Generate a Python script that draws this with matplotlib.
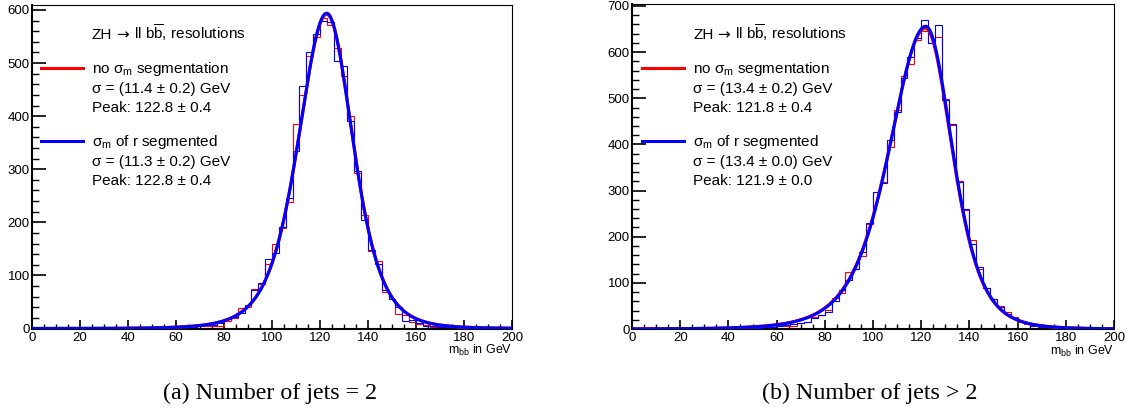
import numpy as np
import matplotlib.pyplot as plt
from matplotlib.ticker import MultipleLocator
from matplotlib.lines import Line2D

plt.rcParams['font.family'] = ['Liberation Sans', 'DejaVu Sans']
plt.rcParams['mathtext.fontset'] = 'custom'
plt.rcParams['mathtext.rm'] = 'Liberation Sans'
plt.rcParams['mathtext.it'] = 'Liberation Sans:italic'
plt.rcParams['mathtext.bf'] = 'Liberation Sans:bold'

# 70 bins from 0 to 200 GeV
n_bins = 70
x_range = (0, 200)

# bin contents, (a) number of jets = 2
left_red = [0, 0, 0, 0, 0, 0, 0, 0, 0, 0,
            0, 0, 0, 1, 0, 1, 1, 1, 1, 2,
            1, 3, 2, 3, 4, 5, 4, 5, 15, 20,
            38, 40, 75, 83, 122, 160, 190, 239, 386, 440,
            514, 550, 584, 572, 529, 475, 400, 292, 213, 146,
            128, 68, 56, 28, 25, 12, 8, 6, 3, 4,
            2, 1, 1, 2, 0, 1, 0, 0, 1, 0]
left_blue = [0, 0, 0, 0, 0, 0, 0, 0, 0, 0,
             0, 0, 1, 0, 1, 0, 1, 1, 2, 1,
             2, 2, 3, 3, 5, 6, 6, 10, 18, 22,
             30, 45, 73, 86, 131, 142, 191, 246, 334, 457,
             521, 555, 579, 578, 504, 494, 391, 296, 205, 148,
             122, 73, 56, 40, 14, 16, 10, 5, 4, 2,
             2, 2, 1, 1, 2, 0, 1, 0, 0, 0]

# (b) number of jets > 2
right_red = [0, 0, 0, 0, 0, 0, 0, 0, 0, 0,
             0, 1, 1, 0, 1, 2, 1, 2, 3, 3,
             5, 8, 7, 6, 13, 16, 25, 30, 41, 68,
             77, 124, 131, 158, 228, 297, 318, 394, 475, 549,
             575, 627, 645, 620, 632, 499, 443, 321, 257, 192,
             131, 88, 66, 50, 36, 26, 15, 10, 8, 6,
             4, 3, 2, 2, 2, 4, 1, 1, 0, 0]
right_blue = [0, 0, 0, 0, 0, 0, 0, 0, 0, 1,
              0, 0, 1, 1, 2, 1, 2, 2, 2, 4,
              4, 6, 8, 10, 12, 15, 23, 30, 37, 60,
              85, 107, 129, 167, 229, 297, 316, 409, 470, 544,
              590, 631, 670, 620, 658, 497, 445, 318, 259, 185,
              135, 88, 64, 48, 33, 24, 18, 12, 7, 5,
              5, 3, 3, 1, 1, 1, 1, 0, 1, 0]

# fit results: amplitude, peak, low-side width, high-side width
left_fit_red = [592, 122.8, 27.5, 25.3]
left_fit_blue = [594, 122.8, 27.4, 25.2]
right_fit_red = [652, 121.8, 35.0, 25.5]
right_fit_blue = [656, 121.9, 34.8, 25.5]
tail_power = 3

legend_red = 'no $\\mathrm{\u03c3_m}$ segmentation'
legend_blue = '$\\mathrm{\u03c3_m}$ of r segmented'
left_stats = [['\u03c3 = (11.4 \u00b1 0.2) GeV', 'Peak: 122.8 \u00b1 0.4'],
              ['\u03c3 = (11.3 \u00b1 0.2) GeV', 'Peak: 122.8 \u00b1 0.4']]
right_stats = [['\u03c3 = (13.4 \u00b1 0.2) GeV', 'Peak: 121.8 \u00b1 0.4'],
               ['\u03c3 = (13.4 \u00b1 0.0) GeV', 'Peak: 121.9 \u00b1 0.0']]
header_parts = [('ZH', 'Liberation Sans', 4), ('\u2192', 'DejaVu Sans', 5),
                ('ll b$\\mathrm{\\overline{b}}$, resolutions', 'Liberation Sans', 0)]
captions = ['(a) Number of jets = 2', '(b) Number of jets > 2']
y_tops = [609.4, 704.3]

W, H = 1130, 412
RED = '#ff0000'
BLUE = '#0000ff'


def fit_shape(x, p):
    amp, peak, w_lo, w_hi = p
    w = np.where(x < peak, w_lo, w_hi)
    return amp * (1 + ((x - peak) / w) ** 2) ** (-tail_power)


fig = plt.figure(figsize=(W / 100, H / 100), dpi=100)
renderer = fig.canvas.get_renderer()
axL = fig.add_axes([32 / W, 1 - 328.5 / H, 480 / W, 323.5 / H])
axR = fig.add_axes([632 / W, 1 - 329 / H, 482 / W, 325 / H])

edges = np.linspace(x_range[0], x_range[1], n_bins + 1)
xf = np.linspace(x_range[0], x_range[1], 1000)

panels = [
    (axL, left_red, left_blue, left_fit_red, left_fit_blue, left_stats, 0),
    (axR, right_red, right_blue, right_fit_red, right_fit_blue, right_stats, 601),
]

for i, (ax, hr, hb, fr, fb, stats, ox) in enumerate(panels):
    ax.stairs(hr, edges, color=RED, lw=0.8, zorder=2)
    ax.stairs(hb, edges, color=BLUE, lw=0.8, zorder=3)
    ax.plot(xf, fit_shape(xf, fr), color=RED, lw=2.2, zorder=4)
    ax.plot(xf, fit_shape(xf, fb), color=BLUE, lw=2.2, zorder=5)

    ax.set_xlim(*x_range)
    ax.set_ylim(0, y_tops[i])
    ax.xaxis.set_major_locator(MultipleLocator(20))
    ax.xaxis.set_minor_locator(MultipleLocator(5))
    ax.yaxis.set_major_locator(MultipleLocator(100))
    ax.yaxis.set_minor_locator(MultipleLocator(20))
    ax.tick_params(axis='x', which='major', direction='in', length=6.7, width=1.2,
                   labelsize=9.5, pad=2.5, top=False)
    ax.tick_params(axis='x', which='minor', direction='in', length=3.4, width=1.0, top=False)
    ax.tick_params(axis='y', which='major', direction='in', length=10, width=1.2,
                   labelsize=9.5, pad=1.5, right=False)
    ax.tick_params(axis='y', which='minor', direction='in', length=5, width=1.0, right=False)
    for s in ['left', 'bottom']:
        ax.spines[s].set_linewidth(1.5)
    for s in ['top', 'right']:
        ax.spines[s].set_linewidth(0.8)

    ax.text(1.0, -0.046, '$\\mathrm{m_{bb}}$ in GeV', transform=ax.transAxes,
            ha='right', va='top', fontsize=9)

    # legend block: header built piece by piece so the arrow gets a wider glyph
    xpos = 92 + ox
    for s, fam, gap in header_parts:
        t = fig.text(xpos / W, 1 - 39 / H, s, fontsize=11, va='baseline', family=fam)
        xpos = t.get_window_extent(renderer).x1 + gap

    rows = [(legend_red, stats[0], RED, 68), (legend_blue, stats[1], BLUE, 141)]
    for label, st, col, yl in rows:
        fig.add_artist(Line2D([(41 + ox) / W, (83 + ox) / W], [1 - yl / H] * 2,
                              transform=fig.transFigure, color=col, lw=2.2))
        fig.text((92 + ox) / W, 1 - (yl + 5) / H, label, fontsize=11, va='baseline')
        fig.text((92 + ox) / W, 1 - (yl + 25) / H, st[0], fontsize=11, va='baseline')
        fig.text((92 + ox) / W, 1 - (yl + 44) / H, st[1], fontsize=11, va='baseline')

fig.text(270 / W, 1 - 393 / H, captions[0], ha='center', va='center',
         family='Liberation Serif', fontsize=17.3)
fig.text(870 / W, 1 - 393 / H, captions[1], ha='center', va='center',
         family='Liberation Serif', fontsize=17.3)

fig.savefig('out.png', dpi=100)
